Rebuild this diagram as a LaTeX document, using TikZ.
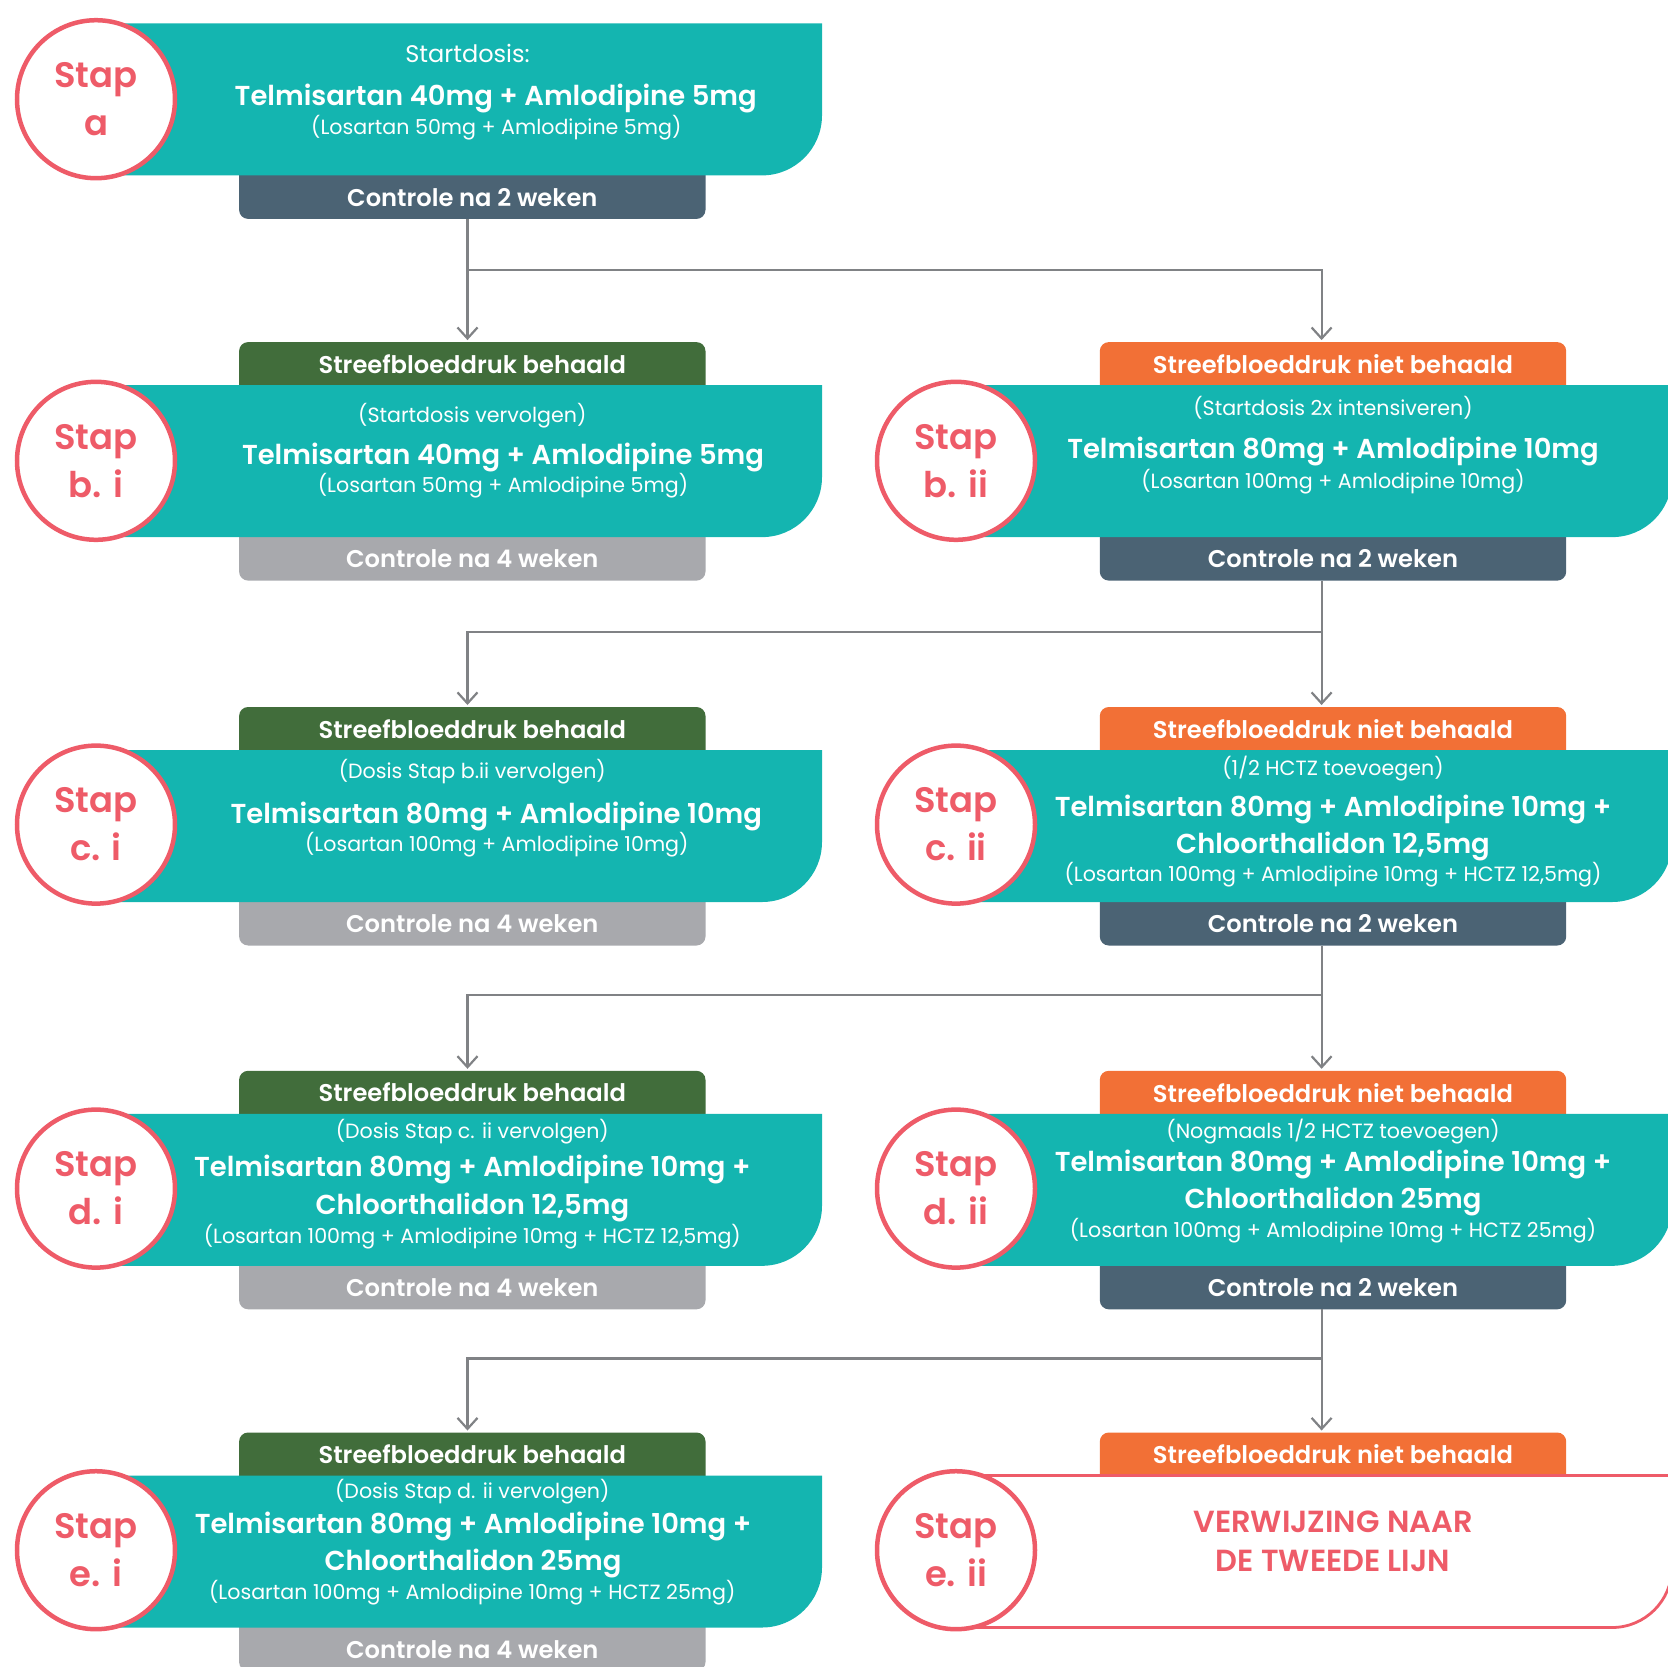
\documentclass[tikz,border=0pt]{standalone}
\usepackage{fontspec}
\setmainfont{Poppins}[BoldFont=* SemiBold]
\usetikzlibrary{arrows.meta,backgrounds}

\definecolor{stapteal}{HTML}{14B5B0}
\definecolor{stapslate}{HTML}{4B6374}
\definecolor{stapgrey}{HTML}{A8A9AD}
\definecolor{stapgreen}{HTML}{416D3B}
\definecolor{staporange}{HTML}{F27036}
\definecolor{stapred}{HTML}{EE5B68}
\definecolor{linegrey}{HTML}{808285}

\tikzset{
  tab/.style={minimum width=466pt, minimum height=43pt, inner sep=0pt, text depth=0pt,
    text=white, font=\fontsize{24.2}{28}\selectfont\bfseries},
  stapring/.style={circle, draw=stapred, line width=4.5pt, fill=white, minimum size=158pt,
    inner sep=0pt, align=center, text=stapred, font=\fontsize{35.4}{48}\selectfont\bfseries},
  subtxt/.style={anchor=base, inner sep=0pt, yshift=-7.2pt, text=white,
    font=\fontsize{20.6}{24}\selectfont},
  maintxt/.style={anchor=base, inner sep=0pt, yshift=-9.6pt, text=white,
    font=\fontsize{27.4}{32}\selectfont\bfseries},
  reftxt/.style={anchor=base, inner sep=0pt, yshift=-10.6pt, text=stapred,
    font=\fontsize{30.5}{34}\selectfont\bfseries},
  conn/.style={draw=linegrey, line width=2.2pt},
  flowarrow/.style={conn, -{Straight Barb[length=11pt,width=20pt]}, shorten >=2pt},
}

% teal plate: x left, x right, top y, style
\newcommand{\plate}[4]{%
  \path[#4] (#1,#3) -- (#2,#3) -- (#2,#3+92)
    .. controls (#2,#3+125.1) and (#2-26.9,#3+152) .. (#2-60,#3+152)
    -- (#1,#3+152) -- cycle;}

\begin{document}
\begin{tikzpicture}[x=1pt,y=-1pt]
  \useasboundingbox (0,0) rectangle (1668,1666);

  % tabs above and below the plates
  \node[tab] (ca)   at (472.3,197.2)  {Controle na 2 weken};
  \node[tab] (hbi)  at (472.3,363.8)  {Streefbloeddruk behaald};
  \node[tab] (hbii) at (1333,363.8)   {Streefbloeddruk niet behaald};
  \node[tab] (cbi)  at (472.3,558.9)  {Controle na 4 weken};
  \node[tab] (cbii) at (1333,558.9)   {Controle na 2 weken};
  \node[tab] (hci)  at (472.3,728.7)  {Streefbloeddruk behaald};
  \node[tab] (hcii) at (1333,728.7)   {Streefbloeddruk niet behaald};
  \node[tab] (cci)  at (472.3,923.8)  {Controle na 4 weken};
  \node[tab] (ccii) at (1333,923.8)   {Controle na 2 weken};
  \node[tab] (hdi)  at (472.3,1092.5) {Streefbloeddruk behaald};
  \node[tab] (hdii) at (1333,1092.5)  {Streefbloeddruk niet behaald};
  \node[tab] (cdi)  at (472.3,1287.6) {Controle na 4 weken};
  \node[tab] (cdii) at (1333,1287.6)  {Controle na 2 weken};
  \node[tab] (hei)  at (472.3,1454.2) {Streefbloeddruk behaald};
  \node[tab] (heii) at (1333,1454.2)  {Streefbloeddruk niet behaald};
  \node[tab] (cei)  at (472.3,1649.3) {Controle na 4 weken};

  \begin{scope}[on background layer, rounded corners=9pt]
    \foreach \h/\c in {hbi/stapgreen,hci/stapgreen,hdi/stapgreen,hei/stapgreen,
                       hbii/staporange,hcii/staporange,hdii/staporange,heii/staporange}
      \fill[\c] ([yshift=-15pt]\h.south west) rectangle (\h.north east);
    \foreach \t/\c in {ca/stapslate,cbii/stapslate,ccii/stapslate,cdii/stapslate,
                       cbi/stapgrey,cci/stapgrey,cdi/stapgrey,cei/stapgrey}
      \fill[\c] (\t.south west) rectangle ([yshift=15pt]\t.north east);
  \end{scope}

  % plates
  \plate{96}{822}{23.4}{fill=stapteal}
  \plate{96}{822}{385.1}{fill=stapteal}
  \plate{956}{1672}{385.1}{fill=stapteal}
  \plate{96}{822}{750}{fill=stapteal}
  \plate{956}{1672}{750}{fill=stapteal}
  \plate{96}{822}{1113.8}{fill=stapteal}
  \plate{956}{1672}{1113.8}{fill=stapteal}
  \plate{96}{822}{1475.5}{fill=stapteal}
  \plate{956}{1672}{1475.5}{fill=white, draw=stapred, line width=2.8pt}

  % step circles
  \node[stapring] (sa)   at (96,99.2)    {Stap\\a};
  \node[stapring] (sbi)  at (96,460.8)   {Stap\\b. i};
  \node[stapring] (sbii) at (956,460.8)  {Stap\\b. ii};
  \node[stapring] (sci)  at (96,824.6)   {Stap\\c. i};
  \node[stapring] (scii) at (956,824.6)  {Stap\\c. ii};
  \node[stapring] (sdi)  at (96,1188.6)  {Stap\\d. i};
  \node[stapring] (sdii) at (956,1188.6) {Stap\\d. ii};
  \node[stapring] (sei)  at (96,1550.2)  {Stap\\e. i};
  \node[stapring] (seii) at (956,1550.2) {Stap\\e. ii};

  % plate texts
  \node[subtxt, font=\fontsize{24}{28}\selectfont, yshift=-1pt] (a-sub) at (467.5,54.3) {Startdosis:};
  \node[maintxt] (a-main) at (495.7,95.7)  {Telmisartan 40mg + Amlodipine 5mg};
  \node[subtxt]  (a-par)  at (496.3,127.7) {(Losartan 50mg + Amlodipine 5mg)};

  \node[subtxt]  (bi-sub)  at (472.3,414.9) {(Startdosis vervolgen)};
  \node[maintxt] (bi-main) at (503,455.3)   {Telmisartan 40mg + Amlodipine 5mg};
  \node[subtxt]  (bi-par)  at (503,485.1)   {(Losartan 50mg + Amlodipine 5mg)};

  \node[subtxt]  (bii-sub)  at (1333,408.5) {(Startdosis 2x intensiveren)};
  \node[maintxt] (bii-main) at (1333,449)   {Telmisartan 80mg + Amlodipine 10mg};
  \node[subtxt]  (bii-par)  at (1333,480.8) {(Losartan 100mg + Amlodipine 10mg)};

  \node[subtxt]  (ci-sub)  at (472.3,771.3) {(Dosis Stap b.ii vervolgen)};
  \node[maintxt] (ci-main) at (496.3,813.8) {Telmisartan 80mg + Amlodipine 10mg};
  \node[subtxt]  (ci-par)  at (496.8,844.7) {(Losartan 100mg + Amlodipine 10mg)};

  \node[subtxt]  (cii-sub)   at (1333,768.1) {(1/2 HCTZ toevoegen)};
  \node[maintxt] (cii-main)  at (1333,806.4) {Telmisartan 80mg + Amlodipine 10mg +};
  \node[maintxt] (cii-main2) at (1333,843.6) {Chloorthalidon 12,5mg};
  \node[subtxt]  (cii-par)   at (1333,874.4) {(Losartan 100mg + Amlodipine 10mg + HCTZ 12,5mg)};

  \node[subtxt]  (di-sub)   at (472.3,1130.8) {(Dosis Stap c. ii vervolgen)};
  \node[maintxt] (di-main)  at (472.3,1167)   {Telmisartan 80mg + Amlodipine 10mg +};
  \node[maintxt] (di-main2) at (472.3,1205.3) {Chloorthalidon 12,5mg};
  \node[subtxt]  (di-par)   at (472.3,1236.1) {(Losartan 100mg + Amlodipine 10mg + HCTZ 12,5mg)};

  \node[subtxt]  (dii-sub)   at (1333,1130.8) {(Nogmaals 1/2 HCTZ toevoegen)};
  \node[maintxt] (dii-main)  at (1333,1161.7) {Telmisartan 80mg + Amlodipine 10mg +};
  \node[maintxt] (dii-main2) at (1333,1198.9) {Chloorthalidon 25mg};
  \node[subtxt]  (dii-par)   at (1333,1229.8) {(Losartan 100mg + Amlodipine 10mg + HCTZ 25mg)};

  \node[subtxt]  (ei-sub)   at (472.3,1491.5) {(Dosis Stap d. ii vervolgen)};
  \node[maintxt] (ei-main)  at (473,1523.4)   {Telmisartan 80mg + Amlodipine 10mg +};
  \node[maintxt] (ei-main2) at (473,1560.6)   {Chloorthalidon 25mg};
  \node[subtxt]  (ei-par)   at (472.3,1592.5) {(Losartan 100mg + Amlodipine 10mg + HCTZ 25mg)};

  \node[reftxt] (eii-ref)  at (1333,1522.3) {VERWIJZING NAAR};
  \node[reftxt] (eii-ref2) at (1333,1560.6) {DE TWEEDE LIJN};

  % connectors
  \coordinate (j1) at (467.5,270.2);
  \coordinate (j2) at (1321.6,631.9);
  \coordinate (j3) at (1321.6,994.6);
  \coordinate (j4) at (1321.6,1358.5);
  \draw[conn] ([xshift=-4.8pt]ca.south) -- (j1);
  \draw[flowarrow] (j1) -- ([xshift=-4.8pt]hbi.north);
  \draw[flowarrow] (j1) -| ([xshift=-11.4pt]hbii.north);
  \draw[conn] ([xshift=-11.4pt]cbii.south) -- (j2);
  \draw[flowarrow] (j2) -- ([xshift=-11.4pt]hcii.north);
  \draw[flowarrow] (j2) -| ([xshift=-4.8pt]hci.north);
  \draw[conn] ([xshift=-11.4pt]ccii.south) -- (j3);
  \draw[flowarrow] (j3) -- ([xshift=-11.4pt]hdii.north);
  \draw[flowarrow] (j3) -| ([xshift=-4.8pt]hdi.north);
  \draw[conn] ([xshift=-11.4pt]cdii.south) -- (j4);
  \draw[flowarrow] (j4) -- ([xshift=-11.4pt]heii.north);
  \draw[flowarrow] (j4) -| ([xshift=-4.8pt]hei.north);
\end{tikzpicture}
\end{document}
